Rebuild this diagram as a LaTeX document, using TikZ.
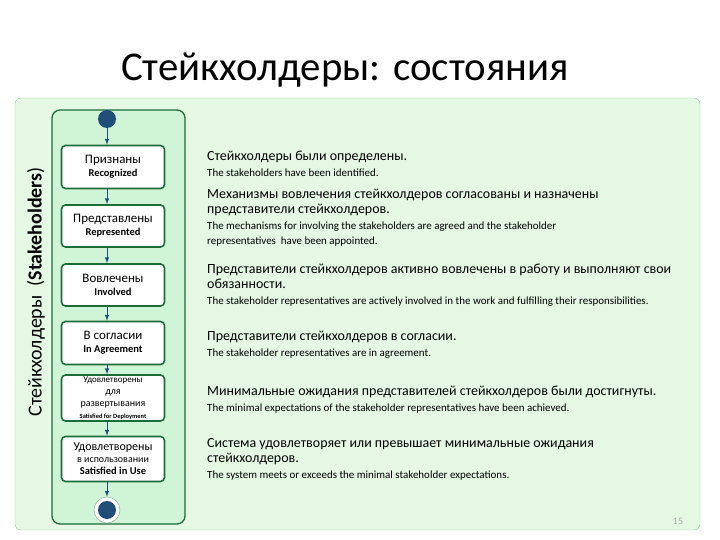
\documentclass[tikz,border=0pt]{standalone}
\usepackage{fontspec}
\setmainfont{Carlito}
\definecolor{panel}{HTML}{E4F8E4}
\definecolor{inner}{HTML}{CFF5D6}
\definecolor{dgreen}{HTML}{1E6B3A}
\definecolor{dblue}{HTML}{1F4E79}
\newcommand\enf{\fontsize{11}{12.5}\selectfont}
\begin{document}
\begin{tikzpicture}[x=1bp,y=-1bp,
  st/.style={draw=dgreen,line width=1.6bp,fill=white,rounded corners=4bp,minimum width=103bp,align=center,inner sep=1bp},
  ar/.style={-latex,dblue,line width=1bp},
  ru/.style={anchor=north west,align=left,font=\fontsize{14}{15}\selectfont,inner sep=0}]
\useasboundingbox (0,0) rectangle (720,540);
\node (title) at (345,70) {\fontsize{41}{45}\selectfont Стейкхолдеры: состояния};
\draw[draw=green!45!black!40,fill=panel,rounded corners=6bp] (15,98) rectangle (700,530);
\draw[draw=dgreen,line width=1.3bp,fill=inner,rounded corners=8bp] (52,110) rectangle (185,524);
\node[rotate=90] (side) at (36,292) {\fontsize{20}{24}\selectfont Стейкхолдеры\ \ (\textbf{Stakeholders})};
\node[circle,fill=dblue,minimum size=18bp,inner sep=0] (start) at (107,119) {};
\node[st,minimum height=43bp] (b1) at (113,167) {\fontsize{13}{14}\selectfont Признаны\\[1bp]\fontsize{10.5}{11}\selectfont\bfseries Recognized};
\node[st,minimum height=42bp] (b2) at (113,226) {\fontsize{13}{14}\selectfont Представлены\\[1bp]\fontsize{10.5}{11}\selectfont\bfseries Represented};
\node[st,minimum height=42bp] (b3) at (113,285) {\fontsize{13}{14}\selectfont Вовлечены\\[1bp]\fontsize{10.5}{11}\selectfont\bfseries Involved};
\node[st,minimum height=43bp] (b4) at (113,343) {\fontsize{13}{14}\selectfont В согласии\\[1bp]\fontsize{10.5}{11}\selectfont\bfseries In Agreement};
\node[st,minimum height=46bp] (b5) at (113,398) {\fontsize{9}{9.5}\selectfont Удовлетворены\\ для\\ развертывания\\\fontsize{6.5}{7}\selectfont\bfseries Satisfied for Deployment};
\node[st,minimum height=45bp] (b6) at (113,459) {\fontsize{12}{13}\selectfont Удовлетворены\\ в использовании\\\fontsize{10.5}{11}\selectfont\bfseries Satisfied in Use};
\node[circle,draw=dgreen!60,fill=white,minimum size=26bp,inner sep=0] (endo) at (107,510) {};
\node[circle,fill=dblue,minimum size=18bp,inner sep=0] (end) at (107,510) {};
\draw[ar] (start) -- (b1.north -| start);
\foreach \a/\b in {b1/b2,b2/b3,b3/b4,b4/b5,b5/b6} \draw[ar] (\a.south -| start) -- (\b.north -| start);
\draw[ar] (b6.south -| start) -- (endo);
\node[ru] (t1) at (207,151) {Стейкхолдеры были определены.\\[1bp]{\enf The stakeholders have been identified.}};
\node[ru] (t2) at (207,189) {Механизмы вовлечения стейкхолдеров согласованы и назначены\\представители стейкхолдеров.\\[1bp]{\enf The mechanisms for involving the stakeholders are agreed and the stakeholder}\\{\enf representatives\ \ have been appointed.}};
\node[ru] (t3) at (207,264) {Представители стейкхолдеров активно вовлечены в работу и выполняют свои\\обязанности.\\[1bp]{\enf The stakeholder representatives are actively involved in the work and fulfilling their responsibilities.}};
\node[ru] (t4) at (207,331) {Представители стейкхолдеров в согласии.\\[1bp]{\enf The stakeholder representatives are in agreement.}};
\node[ru] (t5) at (207,386) {Минимальные ожидания представителей стейкхолдеров были достигнуты.\\[1bp]{\enf The minimal expectations of the stakeholder representatives have been achieved.}};
\node[ru] (t6) at (207,438) {Система удовлетворяет или превышает минимальные ожидания\\стейкхолдеров.\\[1bp]{\enf The system meets or exceeds the minimal stakeholder expectations.}};
\node[text=gray!70,font=\fontsize{10}{11}\selectfont] (pg) at (678,521) {15};
\end{tikzpicture}
\end{document}
